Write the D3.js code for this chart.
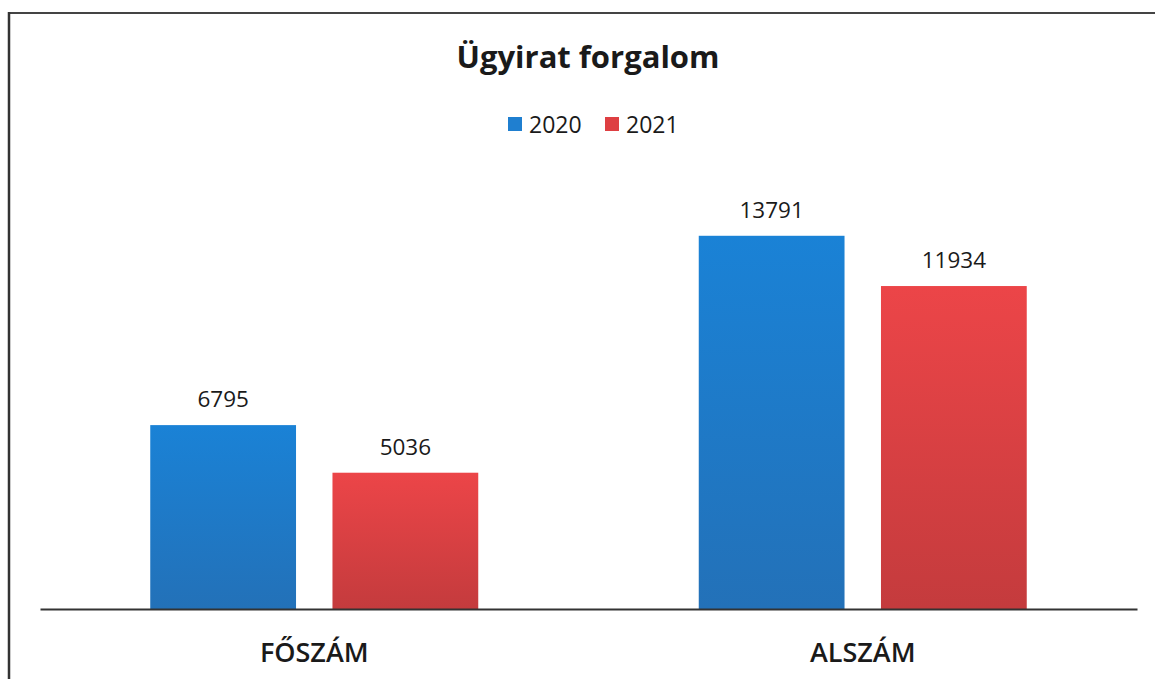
<!DOCTYPE html>
<html>
<head>
<meta charset="utf-8">
<script src="https://cdn.jsdelivr.net/npm/d3@7"></script>
<style>
  body{margin:0;background:#fff;}
  text{font-family:"Open Sans","Noto Sans",sans-serif;fill:#1a1a1a;}
</style>
</head>
<body>
<script>
var width=1155,height=679;
var categories=["FŐSZÁM","ALSZÁM"];
var years=["2020","2021"];
var values2020=[6795,13791];
var values2021=[5036,11934];
var yMax=16000;

var svg=d3.select("body").append("svg")
          .attr("width",width)
          .attr("height",height);

// gradients for the bars
var defs=svg.append("defs");
function grad(id,c1,c2){
  var g=defs.append("linearGradient").attr("id",id)
            .attr("x1",0).attr("y1",0).attr("x2",0).attr("y2",1);
  g.append("stop").attr("offset","0%").attr("stop-color",c1);
  g.append("stop").attr("offset","100%").attr("stop-color",c2);
}
grad("gBlue","#1a82d6","#2371b8");
grad("gRed","#ec4548","#c43b3d");
var fills=["url(#gBlue)","url(#gRed)"],legendColors=["#1f7fd0","#de3f42"];

// frame
svg.append("line").attr("x1",9).attr("x2",width).attr("y1",13).attr("y2",13)
   .attr("stroke","#444").attr("stroke-width",2);
svg.append("line").attr("x1",9).attr("x2",9).attr("y1",12).attr("y2",height)
   .attr("stroke","#333").attr("stroke-width",2.5);

var plotLeft=40,plotRight=1137,plotBottom=609,plotTop=176;
var x0=d3.scaleBand().domain(categories).range([plotLeft,plotRight]).paddingInner(0).paddingOuter(0);
var x1=d3.scaleBand().domain(years).range([-164,164]).paddingInner(0.2);
var y=d3.scaleLinear().domain([0,yMax]).range([plotBottom,plotTop]);

var data=categories.map(function(c,i){
  return {cat:c,vals:[values2020[i],values2021[i]]};
});

var groups=svg.selectAll("g.grp").data(data).enter().append("g")
   .attr("class","grp")
   .attr("transform",function(d){return "translate("+(x0(d.cat)+x0.bandwidth()/2)+",0)";});

groups.selectAll("rect").data(function(d){return d.vals.map(function(v,j){return {v:v,j:j};});})
   .enter().append("rect")
   .attr("x",function(d){return x1(years[d.j]);})
   .attr("width",x1.bandwidth())
   .attr("y",function(d){return y(d.v);})
   .attr("height",function(d){return plotBottom-y(d.v);})
   .attr("fill",function(d){return fills[d.j];});

groups.selectAll("text.val").data(function(d){return d.vals.map(function(v,j){return {v:v,j:j};});})
   .enter().append("text")
   .attr("class","val")
   .attr("x",function(d){return x1(years[d.j])+x1.bandwidth()/2;})
   .attr("y",function(d){return y(d.v)-18;})
   .attr("text-anchor","middle")
   .attr("font-size",22.5)
   .text(function(d){return d.v;});

// axis
var xAxis=d3.axisBottom(x0).tickSize(0).tickPadding(34);
var ax=svg.append("g").attr("transform","translate(0,"+plotBottom+")").call(xAxis);
ax.select(".domain").attr("stroke","#333").attr("stroke-width",2);
ax.selectAll("text").attr("font-size",27).attr("font-weight",600)
  .attr("fill","#1a1a1a").style("font-family","'Open Sans',sans-serif");

// title
svg.append("text").attr("x",588).attr("y",68).attr("text-anchor","middle")
   .attr("font-size",31).attr("font-weight",700).text("Ügyirat forgalom");

// legend
var lx=[508,605];
years.forEach(function(yr,i){
  svg.append("rect").attr("x",lx[i]).attr("y",117).attr("width",14).attr("height",14)
     .attr("fill",legendColors[i]);
  svg.append("text").attr("x",lx[i]+21).attr("y",133).attr("font-size",23).text(yr);
});
</script>
</body>
</html>
